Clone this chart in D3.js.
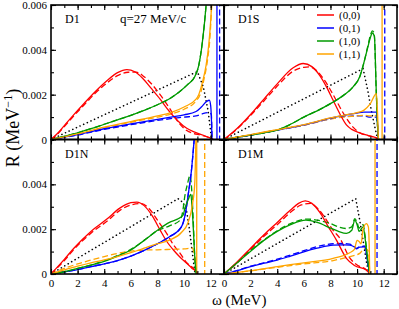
<!DOCTYPE html>
<html>
<head>
<meta charset="utf-8">
<script src="https://cdn.jsdelivr.net/npm/d3@7"></script>
<style>
body { margin: 0; background: #fff; }
text { font-family: "Liberation Serif", "Times New Roman", serif; fill: #000; }
</style>
</head>
<body>
<div id="chart"></div>
<script>
// axes
var omegaTicks = [0, 2, 4, 6, 8, 10, 12];
var rTicks = [0, 2, 4, 6];               // R in units of 1e-3 MeV^-1
var rTickLabels = ["0", "0.002", "0.004", "0.006"];
var channels = ["(0,0)", "(0,1)", "(1,0)", "(1,1)"];
var channelColors = ["#ff0000", "#0000ff", "#009a00", "#ffa500"];

// ---- D1 : [omega (MeV), R (1e-3 MeV^-1)] ----
var d1Red = [[0,0],[0.5,0.28],[1,0.62],[1.7,1.1],[2.5,1.62],[3.3,2.12],[4.2,2.62],[5,2.98],[5.7,3.12],[6.3,3.02],[6.9,2.72],[7.5,2.3],[8.2,1.8],[8.9,1.25],[9.5,0.85],[10.2,0.5],[10.8,0.33],[11.4,0.2],[11.9,0.08],[12.2,0]];
var d1RedDash = [[0,0],[0.5,0.25],[1,0.58],[1.7,1.05],[2.5,1.55],[3.3,2.05],[4.2,2.52],[5,2.85],[5.8,3.0],[6.4,3.01],[7,2.8],[7.6,2.45],[8.2,2.0],[8.9,1.4],[9.6,0.75],[10.2,0.4],[10.7,0.27],[11.2,0.2],[11.9,0.08],[12.2,0]];
var d1Green = [[0,0],[1,0.14],[2,0.3],[3,0.48],[4,0.68],[5,0.88],[6,1.08],[7,1.3],[8,1.55],[9,1.85],[9.7,2.15],[10.3,2.47],[10.8,2.8],[11.1,3.3],[11.3,4.0],[11.5,5.0],[11.7,6.3]];
var d1GreenDash = [[0,0],[1,0.14],[2,0.3],[3,0.48],[4,0.68],[5,0.88],[6,1.08],[7,1.3],[8,1.55],[9,1.85],[9.7,2.15],[10.3,2.47],[10.8,2.8],[11.1,3.3],[11.3,4.0],[11.5,5.0],[11.7,6.3]];
var d1Orange = [[0,0],[2,0.25],[4,0.55],[6,0.8],[8,1.05],[9,1.2],[10,1.45],[10.9,1.8],[11.1,2.0],[11.4,2.6],[11.65,3.3],[11.85,4.2],[12.0,5.3],[12.1,6.3]];
var d1OrangeDash = [[0,0],[2,0.24],[4,0.52],[6,0.77],[8,1.0],[9,1.13],[10,1.35],[10.9,1.72],[11.2,2.0],[11.5,2.7],[11.75,3.5],[11.95,4.6],[12.1,6.3]];
var d1Blue = [[0,0],[2,0.22],[4,0.48],[6,0.7],[8,0.9],[9,1.0],[10,1.1],[10.9,1.25],[11.3,1.45],[11.7,1.7],[11.9,1.75],[12.0,1.5],[12.05,1.0],[12.1,0]];
var d1BlueDash = [[0,0],[2,0.2],[4,0.45],[6,0.66],[8,0.85],[9,0.93],[10,1.0],[10.9,1.05],[11.4,1.15],[11.9,1.2],[12.05,1.1],[12.1,0]];
var d1Free = [[0,0],[11.0,3.03],[11.45,2.34],[11.8,1.3],[12.05,0.1],[12.1,0]];
var d1Poles = [{omega: 12.47, ch: 1, dashed: false}, {omega: 12.67, ch: 1, dashed: true}];

// ---- D1S ----
var d1sRed = [[0,0],[1,0.5],[2.2,1.25],[3,1.8],[3.95,2.45],[5.2,3.2],[5.95,3.39],[6.6,3.25],[7.2,2.85],[7.7,2.35],[8.2,1.75],[8.7,1.15],[9.2,0.65],[9.6,0.45],[10.2,0.3],[11,0.15],[11.5,0.05],[11.6,0]];
var d1sRedDash = [[0,0],[1,0.48],[2.2,1.2],[3,1.72],[3.95,2.35],[5.2,3.05],[6.0,3.22],[6.45,3.24],[7,3.05],[7.6,2.6],[8.2,2.0],[8.7,1.45],[9.2,0.95],[9.7,0.55],[10.2,0.3],[11,0.15],[11.5,0.05],[11.6,0]];
var d1sGreen = [[0,0],[1,0.1],[2,0.2],[3,0.3],[4,0.42],[5,0.68],[6,1.0],[7,1.28],[8,1.6],[9,1.98],[9.7,2.35],[10.2,2.8],[10.5,3.4],[10.8,4.1],[11.0,4.55],[11.15,4.75],[11.3,4.6],[11.45,2.0],[11.58,0.2],[11.62,0]];
var d1sGreenDash = [[0,0],[1,0.1],[2,0.2],[3,0.3],[4,0.42],[5,0.68],[6,1.0],[7,1.28],[8,1.6],[9,1.98],[9.7,2.35],[10.2,2.8],[10.5,3.4],[10.8,4.15],[11.0,4.65],[11.15,4.85],[11.28,4.75],[11.45,2.0],[11.58,0.2],[11.62,0]];
var d1sOrange = [[0,0],[2,0.22],[4,0.44],[6,0.66],[8,0.96],[9,1.08],[10,1.2],[10.5,1.3],[11,1.6],[11.45,2.05],[11.55,1.0],[11.6,0]];
var d1sOrangeDash = [[0,0],[2,0.21],[4,0.43],[6,0.64],[8,0.92],[9,1.0],[10,1.05],[10.5,1.08],[11,1.05],[11.45,1.07],[11.55,0.5],[11.6,0]];
var d1sBlue = [[0,0],[2,0.2],[4,0.42],[6,0.65],[8,0.95],[9,1.08],[10,1.18],[10.5,1.22],[11,1.22],[11.45,1.22],[11.55,0.6],[11.6,0]];
var d1sBlueDash = [[0,0],[2,0.2],[4,0.42],[6,0.64],[8,0.92],[9,1.02],[10,1.05],[10.5,1.05],[11,1.0],[11.45,1.0],[11.55,0.5],[11.6,0]];
var d1sFree = [[0,0],[10.45,3.16],[10.8,2.2],[11.1,1.2],[11.45,0.25],[11.55,0]];
var d1sPoles = [{omega: 11.88, ch: 3, dashed: false}, {omega: 12.08, ch: 1, dashed: true}];

// ---- D1N ----
var d1nRed = [[0,0],[1,0.65],[1.7,1.14],[3,1.9],[4.2,2.45],[5.2,2.95],[6,3.18],[6.45,3.21],[7,3.05],[7.6,2.6],[8.2,1.96],[8.7,1.45],[9.2,1.07],[9.7,0.75],[10.2,0.48],[10.6,0.25],[10.93,0.1],[11.0,0]];
var d1nRedDash = [[0,0],[1,0.6],[1.7,1.08],[3,1.82],[4.2,2.35],[5.2,2.85],[6,3.08],[6.8,3.14],[7.4,2.9],[8,2.4],[8.7,1.8],[9.2,1.3],[9.7,0.92],[10.2,0.5],[10.7,0.25],[11.0,0]];
var d1nGreen = [[0,0],[1,0.1],[2,0.25],[3,0.4],[4,0.56],[5,0.8],[6,1.07],[7,1.5],[8,1.95],[8.9,2.3],[9.5,2.45],[9.9,2.6],[10.1,3.0],[10.3,3.3],[10.5,3.55],[10.65,2.5],[10.8,0.8],[10.9,0]];
var d1nGreenDash = [[0,0],[1,0.1],[2,0.25],[3,0.4],[4,0.58],[5,0.82],[6,1.1],[7,1.5],[7.9,1.9],[8.9,2.15],[9.7,2.4],[9.9,2.8],[10.05,3.45],[10.25,4.0],[10.45,4.4],[10.6,3.5],[10.75,1.5],[10.85,0]];
var d1nBlue = [[0,0],[1,0.1],[2,0.2],[3,0.33],[4,0.45],[5,0.6],[6,0.8],[7,1.05],[8,1.35],[8.9,1.66],[9.8,2.1],[10.1,2.7],[10.3,3.5],[10.55,4.6],[10.8,6.3]];
var d1nBlueDash = [[0,0],[1,0.1],[2,0.2],[3,0.33],[4,0.45],[5,0.6],[6,0.8],[7,1.05],[8,1.35],[8.9,1.66],[9.8,2.1],[10.1,2.7],[10.3,3.5],[10.55,4.6],[10.8,6.3]];
var d1nOrange = [[0,0],[1,0.18],[2,0.35],[3,0.5],[4,0.63],[5,0.78],[6,0.95],[7,1.15],[8,1.35],[8.9,1.51],[9.8,1.85],[10.3,2.3],[10.6,3.0],[10.8,4.0],[10.9,6.3]];
var d1nOrangeDash = [[0,0],[1,0.25],[2,0.45],[3,0.62],[4,0.78],[5,0.92],[6,1.02],[7,1.07],[8,1.08],[9,1.1],[10,1.12],[10.6,1.15],[10.85,0.5],[10.9,0]];
var d1nFree = [[0,0],[9.55,3.36],[9.9,3.2],[10.2,2.77],[10.4,2.0],[10.55,1.29],[10.8,0.1],[10.85,0]];
var d1nPoles = [{omega: 10.95, ch: 3, dashed: false}, {omega: 11.55, ch: 3, dashed: true}];

// ---- D1M ----
var d1mRed = [[0,0],[1,0.55],[2,1.15],[3,1.75],[4,2.3],[5,2.85],[5.6,3.15],[6.1,3.26],[6.6,3.15],[7.2,2.75],[7.8,2.15],[8.45,1.51],[9.2,0.7],[9.8,0.38],[10.7,0.18],[10.95,0]];
var d1mRedDash = [[0,0],[1,0.5],[2,1.1],[3,1.68],[4,2.2],[5,2.75],[5.8,3.08],[6.5,3.15],[7,2.95],[7.6,2.5],[8.2,1.95],[8.7,1.6],[9.45,0.72],[10,0.4],[10.7,0.18],[10.95,0]];
var d1mGreen = [[0,0],[1,0.5],[2,1.02],[3,1.5],[4,1.9],[5,2.2],[6.15,2.4],[7,2.3],[8,2.05],[8.6,1.9],[9.2,1.81],[9.6,1.95],[9.83,2.4],[10,2.2],[10.15,1.9],[10.45,2.1],[10.6,1.6],[10.8,0.6],[10.95,0]];
var d1mGreenDash = [[0,0],[1,0.52],[2,1.05],[3,1.52],[4,1.93],[5,2.25],[6.3,2.45],[7,2.4],[8,2.25],[8.6,2.1],[9.2,2.03],[9.6,2.1],[9.83,2.47],[10,2.3],[10.15,2.05],[10.45,2.2],[10.6,1.7],[10.8,0.6],[10.95,0]];
var d1mBlue = [[0,0],[1,0.15],[2,0.33],[3,0.48],[4,0.62],[5,0.8],[6,0.99],[7,1.15],[8.2,1.29],[9,1.3],[9.45,1.29],[9.8,1.2],[9.95,1.12],[10.2,1.2],[10.58,1.21],[10.8,0.5],[10.95,0]];
var d1mBlueDash = [[0,0],[1,0.16],[2,0.35],[3,0.5],[4,0.66],[5,0.85],[6,1.04],[7,1.22],[8.2,1.35],[9,1.36],[9.45,1.33],[9.8,1.22],[9.95,1.14],[10.2,1.22],[10.58,1.24],[10.8,0.5],[10.95,0]];
var d1mOrange = [[0,0],[2,0.15],[4,0.33],[6,0.5],[8.2,0.7],[9.45,0.95],[9.8,1.1],[10,1.5],[10.15,1.45],[10.3,1.35],[10.45,2.0],[10.7,2.25],[10.85,2.1],[10.92,1.0],[10.95,0]];
var d1mOrangeDash = [[0,0],[2,0.14],[4,0.3],[6,0.45],[8.2,0.6],[9.45,0.78],[10.2,0.92],[10.6,1.15],[10.85,1.0],[10.95,0]];
var d1mFree = [[0,0],[9.9,3.36],[10.2,2.4],[10.45,1.5],[10.7,0.55],[10.9,0]];
var d1mPoles = [{omega: 11.35, ch: 3, dashed: false}, {omega: 11.5, ch: 1, dashed: true}];

var panels = [
    {label: "D1", col: 0, row: 0, solid: [d1Red, d1Blue, d1Green, d1Orange], dashed: [d1RedDash, d1BlueDash, d1GreenDash, d1OrangeDash], free: d1Free, poles: d1Poles},
    {label: "D1S", col: 1, row: 0, solid: [d1sRed, d1sBlue, d1sGreen, d1sOrange], dashed: [d1sRedDash, d1sBlueDash, d1sGreenDash, d1sOrangeDash], free: d1sFree, poles: d1sPoles},
    {label: "D1N", col: 0, row: 1, solid: [d1nRed, d1nBlue, d1nGreen, d1nOrange], dashed: [d1nRedDash, d1nBlueDash, d1nGreenDash, d1nOrangeDash], free: d1nFree, poles: d1nPoles},
    {label: "D1M", col: 1, row: 1, solid: [d1mRed, d1mBlue, d1mGreen, d1mOrange], dashed: [d1mRedDash, d1mBlueDash, d1mGreenDash, d1mOrangeDash], free: d1mFree, poles: d1mPoles}
];

var width = 399, height = 309;
var marginLeft = 51, marginTop = 5;
var pw = 173, ph = 134.5;
var lineWidth = 1.3;

var svg = d3.select("#chart")
    .append("svg")
    .attr("width", width)
    .attr("height", height);

panels.forEach(function (p, i) {
    var x0 = marginLeft + p.col * pw, y0 = marginTop + p.row * ph;
    var x = d3.scaleLinear().domain([0, 13]).range([x0, x0 + pw]);
    var y = d3.scaleLinear().domain([0, 6]).range([y0 + ph, y0]);

    svg.append("clipPath").attr("id", "clip" + i)
        .append("rect").attr("x", x0).attr("y", y0).attr("width", pw).attr("height", ph);

    var g = svg.append("g").attr("clip-path", "url(#clip" + i + ")");

    var line = d3.line()
        .x(function (d) { return x(d[0]); })
        .y(function (d) { return y(d[1]); })
        .curve(d3.curveMonotoneX);

    // poles: vertical lines across the panel
    g.selectAll(".pole")
        .data(p.poles)
        .enter().append("line")
        .attr("x1", function (d) { return x(d.omega); })
        .attr("x2", function (d) { return x(d.omega); })
        .attr("y1", y(0) + 2).attr("y2", y(6) - 2)
        .attr("stroke", function (d) { return channelColors[d.ch]; })
        .attr("stroke-width", lineWidth)
        .attr("stroke-dasharray", function (d) { return d.dashed ? "6,3" : null; });

    // free response (dotted)
    g.append("path")
        .attr("d", d3.line().x(function (d) { return x(d[0]); }).y(function (d) { return y(d[1]); })(p.free))
        .attr("fill", "none")
        .attr("stroke", "#000")
        .attr("stroke-width", 1.6)
        .attr("stroke-linecap", "round")
        .attr("stroke-dasharray", "0.1,3.9");

    p.dashed.forEach(function (s, k) {
        g.append("path")
            .attr("d", line(s))
            .attr("fill", "none")
            .attr("stroke", channelColors[k])
            .attr("stroke-width", lineWidth)
            .attr("stroke-dasharray", "6,3");
    });
    p.solid.forEach(function (s, k) {
        g.append("path")
            .attr("d", line(s))
            .attr("fill", "none")
            .attr("stroke", channelColors[k])
            .attr("stroke-width", lineWidth);
    });

    // ticks, inward on every side
    var minorX = d3.range(0, 14), minorY = d3.range(0, 7);
    var bottom = svg.append("g").attr("transform", "translate(0," + (y0 + ph) + ")");
    bottom.call(d3.axisBottom(x).tickValues(minorX).tickSize(-3).tickFormat(""));
    bottom.append("g").call(d3.axisBottom(x).tickValues(omegaTicks).tickSize(-5).tickPadding(5)
        .tickFormat(function (d) { return p.row === 1 ? d : ""; }));
    var topAx = svg.append("g").attr("transform", "translate(0," + y0 + ")");
    topAx.call(d3.axisTop(x).tickValues(minorX).tickSize(-3).tickFormat(""));
    topAx.append("g").call(d3.axisTop(x).tickValues(omegaTicks).tickSize(-5).tickFormat(""));
    var leftAx = svg.append("g").attr("transform", "translate(" + x0 + ",0)");
    leftAx.call(d3.axisLeft(y).tickValues(minorY).tickSize(-3).tickFormat(""));
    leftAx.append("g").call(d3.axisLeft(y).tickValues(p.row === 0 ? rTicks : rTicks.slice(0, 3)).tickSize(-5).tickPadding(4)
        .tickFormat(function (d) { return p.col === 0 ? rTickLabels[rTicks.indexOf(d)] : ""; }));
    var rightAx = svg.append("g").attr("transform", "translate(" + (x0 + pw) + ",0)");
    rightAx.call(d3.axisRight(y).tickValues(minorY).tickSize(-3).tickFormat(""));
    rightAx.append("g").call(d3.axisRight(y).tickValues(rTicks).tickSize(-5).tickFormat(""));

    svg.append("rect")
        .attr("x", x0).attr("y", y0).attr("width", pw).attr("height", ph)
        .attr("fill", "none").attr("stroke", "#000").attr("stroke-width", 1.6);

    svg.append("text")
        .attr("x", x0 + 14).attr("y", y0 + 18)
        .style("font-size", "12px")
        .text(p.label);
});

svg.selectAll(".domain").remove();
svg.selectAll(".tick line").attr("stroke", "#000").attr("stroke-width", 1.1);
svg.selectAll(".tick text").style("font-size", "11px").style("font-family", "Liberation Serif");

svg.append("text")
    .attr("x", 120).attr("y", 23)
    .style("font-size", "13px")
    .text("q=27 MeV/c");

// legend
var legend = svg.append("g");
channels.forEach(function (c, k) {
    var ly = 15 + k * 13;
    legend.append("line")
        .attr("x1", 317).attr("x2", 334).attr("y1", ly).attr("y2", ly)
        .attr("stroke", channelColors[k]).attr("stroke-width", 1.5);
    legend.append("text")
        .attr("x", 339).attr("y", ly + 4)
        .style("font-size", "11px")
        .text(c);
});

// axis titles
svg.append("text")
    .attr("x", 212).attr("y", 305)
    .style("font-size", "15px")
    .text("\u03c9  (MeV)");

var yt = svg.append("text")
    .attr("transform", "translate(19,128) rotate(-90)")
    .attr("text-anchor", "middle")
    .style("font-size", "18px");
yt.append("tspan").text("R (MeV");
yt.append("tspan").attr("dy", -7).style("font-size", "12px").text("\u22121");
yt.append("tspan").attr("dy", 7).text(")");
</script>
</body>
</html>
